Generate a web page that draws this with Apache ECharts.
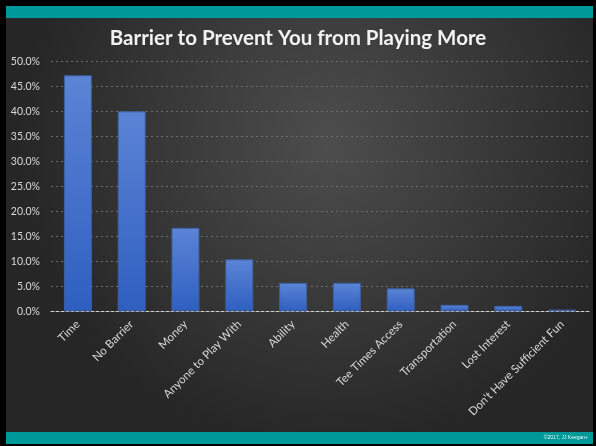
<!DOCTYPE html>
<html>
<head>
<meta charset="utf-8">
<style>
  html, body { margin: 0; padding: 0; background: #000; }
  #chart { width: 596px; height: 446px; }
</style>
<script src="https://cdn.jsdelivr.net/npm/echarts@6/dist/echarts.min.js"></script>
</head>
<body>
<div id="chart"></div>
<script>
// Survey responses: what keeps golfers from playing more
const categories = [
  'Time', 'No Barrier', 'Money', 'Anyone to Play With', 'Ability',
  'Health', 'Tee Times Access', 'Transportation', 'Lost Interest',
  "Don't Have Sufficient Fun"
];
const shares = [47.2, 40.0, 16.7, 10.4, 5.7, 5.7, 4.6, 1.3, 1.1, 0.35];
const titleText = 'Barrier to Prevent You from Playing More';
const creditText = '\u00A92017, JJ Keegan+';

const chart = echarts.init(document.getElementById('chart'), null, { renderer: 'canvas' });

const W = 596, H = 446;

chart.setOption({
  backgroundColor: '#000',
  animation: false,
  graphic: [
    // slide panel with a soft radial highlight
    {
      type: 'rect', z: -10, silent: true,
      shape: { x: 6, y: 18, width: W - 9, height: 414 },
      style: {
        fill: new echarts.graphic.RadialGradient(0.55, 0.3, 0.75, [
          { offset: 0, color: '#4d4d4d' },
          { offset: 1, color: '#262626' }
        ])
      }
    },
    // teal header and footer strips
    {
      type: 'rect', z: -5, silent: true,
      shape: { x: 6, y: 6, width: W - 9, height: 12 },
      style: { fill: '#009999' }
    },
    {
      type: 'rect', z: -5, silent: true,
      shape: { x: 6, y: 432, width: W - 9, height: 12 },
      style: { fill: '#009999' }
    },
    {
      type: 'text', z: 5, silent: true,
      right: 8, top: 435,
      style: {
        text: creditText, fill: '#e6f4f4',
        font: '5px "Liberation Sans", sans-serif'
      }
    }
  ],
  title: {
    text: titleText,
    left: 'center',
    top: 23,
    textStyle: {
      color: '#f2f2f2',
      fontFamily: 'Lato, "Open Sans", sans-serif',
      fontWeight: 'bold',
      fontSize: 20.5
    }
  },
  grid: {
    left: 51, right: 7, top: 61.3, bottom: 134.7,
    containLabel: false
  },
  xAxis: {
    type: 'category',
    data: categories,
    axisTick: { show: false },
    axisLine: {
      show: true,
      lineStyle: { color: '#d0d0d0', width: 1, type: [3, 2] }
    },
    axisLabel: {
      interval: 0,
      rotate: 45,
      color: '#d9d9d9',
      fontFamily: 'Lato, "Open Sans", sans-serif',
      fontSize: 11.5,
      margin: 11
    }
  },
  yAxis: {
    type: 'value',
    min: 0, max: 50, interval: 5,
    axisLine: { show: false },
    axisTick: { show: false },
    axisLabel: {
      color: '#d9d9d9',
      fontFamily: 'Lato, "Open Sans", sans-serif',
      fontSize: 10.5,
      margin: 11,
      formatter: v => v.toFixed(1) + '%'
    },
    splitLine: {
      lineStyle: { color: '#6e6e6e', width: 1, type: [2, 3] }
    }
  },
  series: [{
    type: 'bar',
    data: shares,
    barWidth: '52%',
    itemStyle: {
      color: new echarts.graphic.LinearGradient(0, 0, 0, 1, [
        { offset: 0, color: '#5c84d6' },
        { offset: 1, color: '#2e5fc0' }
      ]),
      borderColor: '#3d5f9f',
      borderWidth: 1
    }
  }]
});
</script>
</body>
</html>
